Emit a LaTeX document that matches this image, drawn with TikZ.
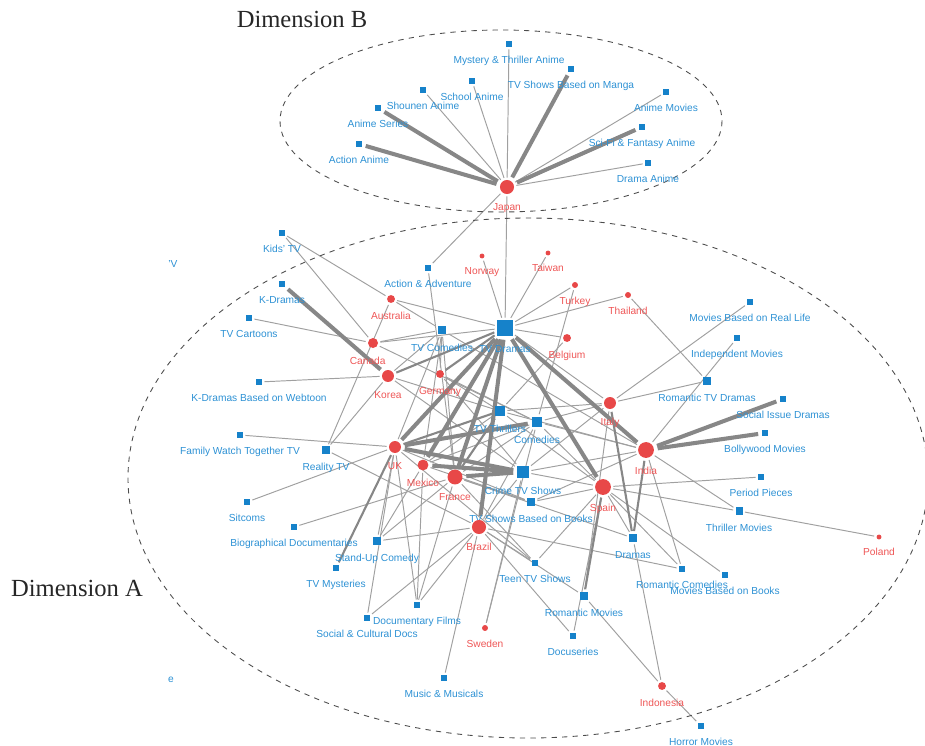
\documentclass[tikz,border=0pt]{standalone}
\usepackage{fontspec}
\setmainfont{Liberation Sans}
\newfontfamily\dimfont{Liberation Serif}
\usetikzlibrary{backgrounds}
\definecolor{genreblue}{RGB}{22,130,202}
\definecolor{genretext}{RGB}{45,145,212}
\definecolor{countryred}{RGB}{232,72,72}
\definecolor{countrytext}{RGB}{238,86,86}
\definecolor{edgegray}{RGB}{160,160,160}
\definecolor{heavygray}{RGB}{135,135,135}
\tikzset{
  genre/.style={rectangle, fill=genreblue, inner sep=0pt, minimum size=#1, label distance=2.6pt},
  genre/.default=3.4pt,
  country/.style={circle, fill=countryred, inner sep=0pt, minimum size=#1, label distance=2.6pt},
  country/.default=3.4pt,
  gtext/.style={text=genretext, font=\fontsize{5.8}{6}\selectfont, inner sep=0.5pt},
  ctext/.style={text=countrytext, font=\fontsize{5.8}{6}\selectfont, inner sep=0.5pt},
  glabel/.style={gtext, yshift=-4.3pt},
  clabel/.style={ctext, yshift=-4.3pt},
  link/.style={draw=edgegray, line width=0.55pt, shorten >=1.2pt, shorten <=1.2pt},
  midlink/.style={draw=heavygray, line width=1.2pt, shorten >=1.5pt, shorten <=1.5pt},
  heavylink/.style={draw=heavygray, line width=2.3pt, shorten >=2pt, shorten <=2pt},
  dimension/.style={draw=gray!60!black, dashed, line width=0.5pt},
  dimtext/.style={font=\dimfont\fontsize{14}{16}\selectfont, text=black!85}
}
\begin{document}
\begin{tikzpicture}[x=0.02cm, y=-0.02cm]
\useasboundingbox (0,0) rectangle (925,746);
\draw[dimension] (501,121) ellipse [x radius=221, y radius=91];
\draw[dimension] (528,478) ellipse [x radius=400, y radius=260];
\node[dimtext] (dimB) at (302,19) {Dimension B};
\node[dimtext] (dimA) at (77,588) {Dimension A};

\node[country=8pt, label={[clabel]below:Japan}] (japan) at (507,187) {};
\node[genre, label={[glabel]below:Mystery \& Thriller Anime}] (mystery) at (509,44) {};
\node[genre, label={[glabel]below:TV Shows Based on Manga}] (manga) at (571,69) {};
\node[genre, label={[glabel]below:School Anime}] (school) at (472,81) {};
\node[genre, label={[glabel]below:Shounen Anime}] (shounen) at (423,90) {};
\node[genre, label={[glabel]below:Anime Series}] (animeseries) at (378,108) {};
\node[genre, label={[glabel]below:Action Anime}] (actionanime) at (359,144) {};
\node[genre, label={[glabel]below:Anime Movies}] (animemovies) at (666,92) {};
\node[genre, label={[glabel]below:Sci-Fi \& Fantasy Anime}] (scifi) at (642,127) {};
\node[genre, label={[glabel]below:Drama Anime}] (dramaanime) at (648,163) {};

\node[genre, label={[glabel]below:Kids' TV}] (kidstv) at (282,233) {};
\node[genre, label={[glabel]below:K-Dramas}] (kdramas) at (282,284) {};
\node[genre, label={[glabel]below:TV Cartoons}] (cartoons) at (249,318) {};
\node[genre, label={[glabel]below:K-Dramas Based on Webtoon}] (webtoon) at (259,382) {};
\node[genre, label={[glabel]below:Action \& Adventure}] (actadv) at (428,268) {};
\node[genre=5.1pt, label={[glabel]below:TV Comedies}] (tvcom) at (442,330) {};
\node[genre=9pt, label={[glabel]below:TV Dramas}] (tvdramas) at (505,328) {};
\node[genre=5.7pt, label={[glabel]below:TV Thrillers}] (tvthr) at (500,411) {};
\node[genre=6.2pt, label={[glabel]below:Comedies}] (comedies) at (537,422) {};
\node[genre=6.8pt, label={[glabel]below:Crime TV Shows}] (crime) at (523,472) {};
\node[genre=4.5pt, label={[glabel]below:TV Shows Based on Books}] (tvbooks) at (531,502) {};
\node[genre, label={[glabel]below:Family Watch Together TV}] (family) at (240,435) {};
\node[genre=4pt, label={[glabel]below:Reality TV}] (reality) at (326,450) {};
\node[genre, label={[glabel]below:Sitcoms}] (sitcoms) at (247,502) {};
\node[genre, label={[glabel]below:Biographical Documentaries}] (biodocs) at (294,527) {};
\node[genre=4.5pt, label={[glabel]below:Stand-Up Comedy}] (standup) at (377,541) {};
\node[genre, label={[glabel]below:TV Mysteries}] (tvmyst) at (336,568) {};
\node[genre, label={[glabel]below:Documentary Films}] (docfilms) at (417,605) {};
\node[genre, label={[glabel]below:Social \& Cultural Docs}] (socdocs) at (367,618) {};
\node[genre, label={[glabel]below:Music \& Musicals}] (music) at (444,678) {};
\node[genre, label={[glabel]below:Teen TV Shows}] (teen) at (535,563) {};
\node[genre=4.5pt, label={[glabel]below:Romantic Movies}] (rommov) at (584,596) {};
\node[genre, label={[glabel]below:Docuseries}] (docuseries) at (573,636) {};
\node[genre=4.5pt, label={[glabel]below:Dramas}] (dramas) at (633,538) {};
\node[genre, label={[glabel]below:Romantic Comedies}] (romcom) at (682,569) {};
\node[genre, label={[glabel]below:Movies Based on Books}] (movbooks) at (725,575) {};
\node[genre=4pt, label={[glabel]below:Thriller Movies}] (thrmov) at (739,511) {};
\node[genre, label={[glabel]below:Period Pieces}] (period) at (761,477) {};
\node[genre, label={[glabel]below:Horror Movies}] (horror) at (701,726) {};
\node[genre, label={[glabel]below:Movies Based on Real Life}] (reallife) at (750,302) {};
\node[genre, label={[glabel]below:Independent Movies}] (indep) at (737,338) {};
\node[genre=4pt, label={[glabel]below:Romantic TV Dramas}] (romtv) at (707,381) {};
\node[genre, label={[glabel]below:Social Issue Dramas}] (socissue) at (783,399) {};
\node[genre, label={[glabel]below:Bollywood Movies}] (bolly) at (765,433) {};

\node[country=4.5pt, label={[clabel]below:Australia}] (australia) at (391,299) {};
\node[country=5.7pt, label={[clabel, xshift=-3pt]below:Canada}] (canada) at (373,343) {};
\node[country=6.8pt, label={[clabel]below:Korea}] (korea) at (388,376) {};
\node[country=4.5pt, label={[clabel]below:Germany}] (germany) at (440,374) {};
\node[country=2.8pt, label={[clabel]below:Norway}] (norway) at (482,256) {};
\node[country=2.8pt, label={[clabel]below:Taiwan}] (taiwan) at (548,253) {};
\node[country, label={[clabel]below:Turkey}] (turkey) at (575,285) {};
\node[country, label={[clabel]below:Thailand}] (thailand) at (628,295) {};
\node[country=4.5pt, label={[clabel]below:Belgium}] (belgium) at (567,338) {};
\node[country=6.8pt, label={[clabel]below:Italy}] (italy) at (610,403) {};
\node[country=9pt, label={[clabel]below:India}] (india) at (646,450) {};
\node[country=6.8pt, label={[clabel]below:UK}] (uk) at (395,447) {};
\node[country=6.2pt, label={[clabel]below:Mexico}] (mexico) at (423,465) {};
\node[country=8.5pt, label={[clabel]below:France}] (france) at (455,477) {};
\node[country=9pt, label={[clabel]below:Spain}] (spain) at (603,487) {};
\node[country=8pt, label={[clabel]below:Brazil}] (brazil) at (479,527) {};
\node[country, label={[clabel]below:Sweden}] (sweden) at (485,628) {};
\node[country=4.5pt, label={[clabel]below:Indonesia}] (indonesia) at (662,686) {};
\node[country=2.8pt, label={[clabel]below:Poland}] (poland) at (879,537) {};

\node[gtext] (cutv) at (173,264) {'V};
\node[gtext] (cute) at (171,680) {e};

\begin{scope}[on background layer]
\foreach \a/\b in {japan/shounen, japan/school, japan/mystery, japan/animemovies, japan/dramaanime, japan/actadv, japan/tvdramas,
  kidstv/australia, kidstv/canada, cartoons/canada, webtoon/korea,
  australia/tvdramas, australia/tvcom, reality/australia, reality/korea, reality/brazil,
  canada/tvcom, canada/tvdramas, canada/comedies, korea/crime, korea/tvthr, korea/tvcom,
  germany/crime, germany/tvcom, germany/comedies, actadv/france,
  tvcom/uk, tvcom/mexico, tvcom/france, tvcom/india,
  norway/tvdramas, taiwan/tvdramas, turkey/tvdramas, thailand/tvdramas, belgium/tvdramas, italy/tvdramas,
  turkey/comedies, belgium/tvthr, thailand/romtv,
  tvthr/mexico, tvthr/india, tvthr/spain, tvthr/italy, tvthr/germany,
  comedies/mexico, comedies/france, comedies/india, comedies/spain, comedies/italy, comedies/brazil, comedies/sweden,
  crime/spain, crime/india, crime/italy, crime/brazil, crime/sweden,
  tvbooks/spain, tvbooks/france, tvbooks/uk, tvbooks/mexico, tvbooks/india,
  family/uk, sitcoms/uk, biodocs/france,
  standup/uk, standup/mexico, standup/france, standup/brazil,
  docfilms/mexico, docfilms/france, docfilms/uk, docfilms/brazil,
  socdocs/uk, socdocs/brazil, music/brazil,
  teen/brazil, teen/spain, teen/uk, teen/france,
  rommov/brazil, rommov/indonesia, rommov/italy,
  docuseries/brazil, docuseries/spain,
  dramas/spain, dramas/indonesia, dramas/france,
  romcom/india, romcom/spain, romcom/brazil,
  movbooks/spain, thrmov/india, thrmov/spain, thrmov/poland, period/spain, horror/indonesia,
  reallife/italy, indep/india, romtv/italy}
  \draw[link] (\a) -- (\b);
\foreach \a/\b in {tvmyst/uk, dramas/italy, dramas/india, rommov/spain, tvthr/uk, tvthr/france, tvdramas/korea, tvdramas/germany}
  \draw[midlink] (\a) -- (\b);
\foreach \a/\b in {japan/actionanime, japan/animeseries, japan/manga, japan/scifi, kdramas/korea, india/socissue, india/bolly,
  tvdramas/uk, tvdramas/france, tvdramas/mexico, tvdramas/brazil, tvdramas/spain, tvdramas/india,
  crime/uk, crime/france, crime/mexico, comedies/uk}
  \draw[heavylink] (\a) -- (\b);
\end{scope}
\end{tikzpicture}
\end{document}
